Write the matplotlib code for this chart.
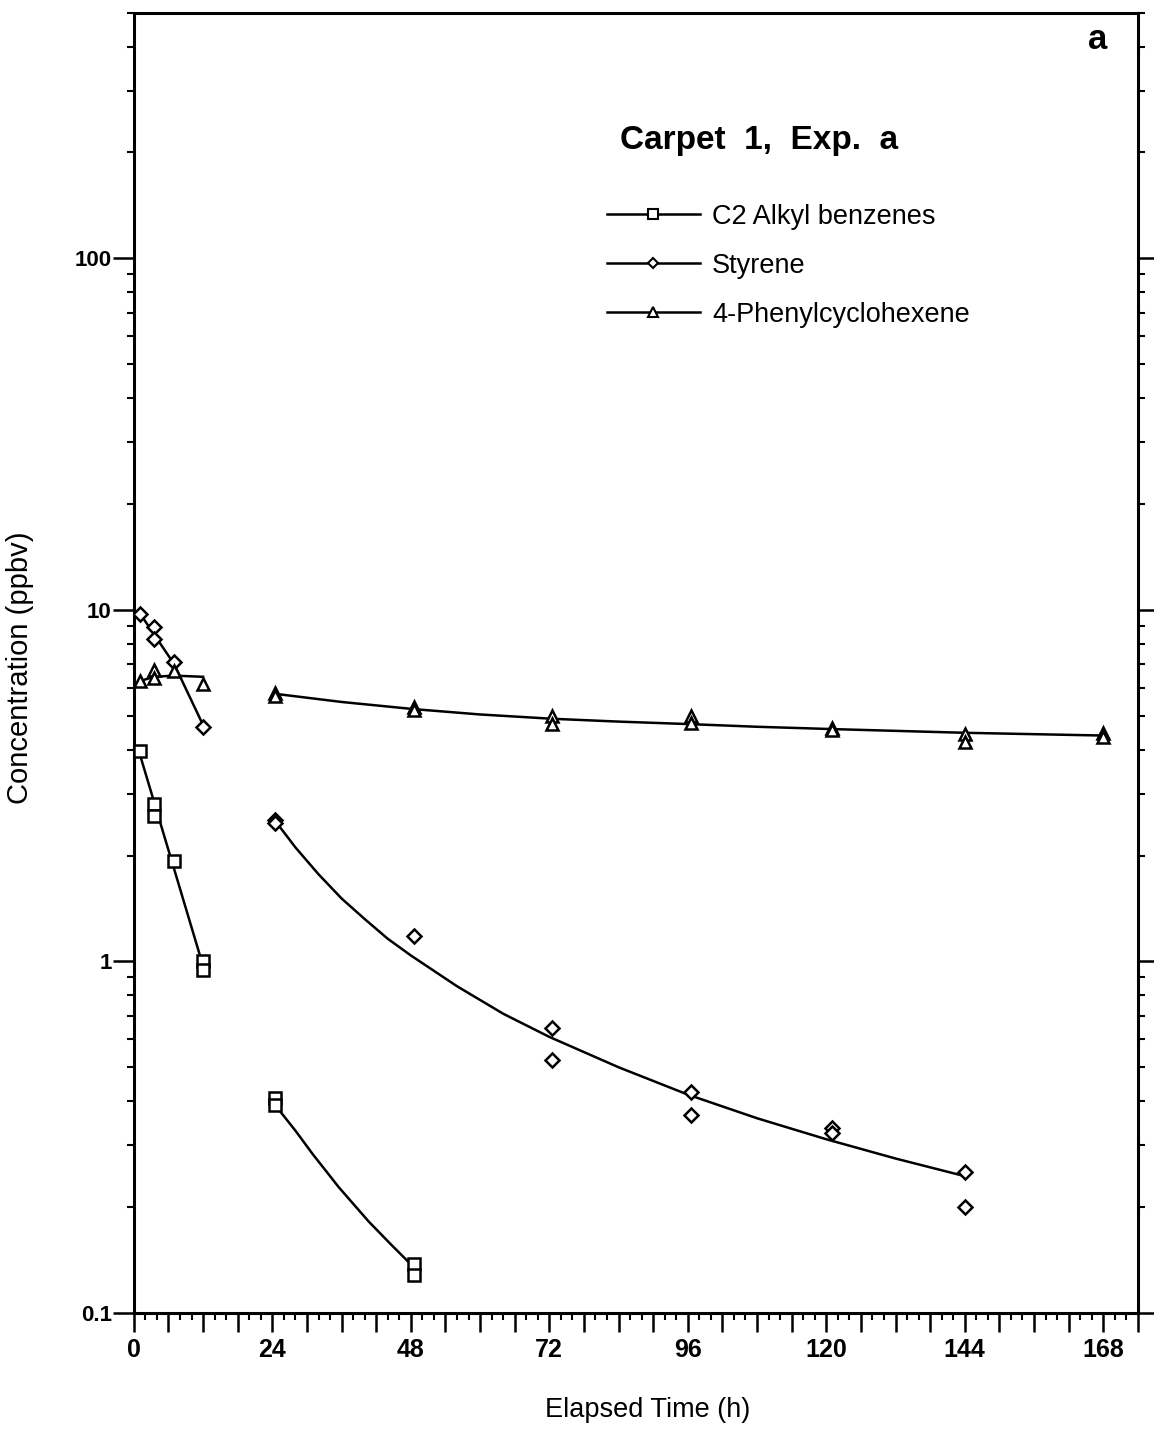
import matplotlib
matplotlib.use("Agg")
import matplotlib.pyplot as plt
from matplotlib.lines import Line2D
from matplotlib.ticker import MultipleLocator, FuncFormatter, LogLocator, NullFormatter

plt.rcParams["font.family"] = ["Liberation Sans", "DejaVu Sans"]

# measured points (h, ppbv)
c2_t = [1, 3.5, 3.5, 7, 12, 12, 24.5, 24.5, 48.5, 48.5]
c2_c = [3.97, 2.80, 2.59, 1.93, 1.00, 0.944, 0.41, 0.39, 0.138, 0.128]

sty_t = [1, 3.5, 3.5, 7, 12, 24.5, 24.5, 48.5, 72.5, 72.5, 96.5, 96.5, 121, 121, 144, 144]
sty_c = [9.76, 8.93, 8.28, 7.11, 4.63, 2.53, 2.48, 1.18, 0.648, 0.525, 0.425, 0.366,
         0.335, 0.325, 0.251, 0.20]

pch_t = [1, 3.5, 3.5, 7, 12, 24.5, 24.5, 48.5, 48.5, 72.5, 72.5, 96.5, 96.5, 121, 121,
         144, 144, 168, 168]
pch_c = [6.26, 6.75, 6.4, 6.7, 6.16, 5.8, 5.7, 5.3, 5.2, 5.0, 4.73, 5.0, 4.77, 4.6, 4.55,
         4.43, 4.22, 4.45, 4.35]

# fitted curves
c2_fit1_t = [1, 12]
c2_fit1_c = [3.9, 0.97]
c2_fit2_t = [24.5, 28, 31, 35.5, 40.7, 44.5, 48.5]
c2_fit2_c = [0.39, 0.33, 0.283, 0.228, 0.182, 0.157, 0.135]

sty_fit1_t = [1, 7, 12]
sty_fit1_c = [9.8, 7.0, 4.7]
sty_fit2_t = [24.5, 28, 32, 36, 40, 44, 48, 56, 64, 72, 84, 96, 108, 120, 132, 144]
sty_fit2_c = [2.51, 2.11, 1.77, 1.51, 1.32, 1.16, 1.04, 0.85, 0.71, 0.61, 0.50, 0.418,
              0.358, 0.312, 0.275, 0.245]

pch_fit1_t = [1, 3.5, 7, 12]
pch_fit1_c = [6.27, 6.45, 6.5, 6.45]
pch_fit2_t = [24.5, 36, 48.5, 60, 72.5, 84, 96.5, 108, 121, 144, 168]
pch_fit2_c = [5.77, 5.47, 5.22, 5.04, 4.9, 4.81, 4.73, 4.65, 4.58, 4.47, 4.39]

labels = ["C2 Alkyl benzenes", "Styrene", "4-Phenylcyclohexene"]


def main():
    fig = plt.figure(figsize=(11.54, 14.29), dpi=100)
    ax = fig.add_axes([0.116, 0.0812, 0.870, 0.910])

    lw = 1.8
    for t, c in [(c2_fit1_t, c2_fit1_c), (c2_fit2_t, c2_fit2_c),
                 (sty_fit1_t, sty_fit1_c), (sty_fit2_t, sty_fit2_c),
                 (pch_fit1_t, pch_fit1_c), (pch_fit2_t, pch_fit2_c)]:
        ax.plot(t, c, color="black", lw=lw, solid_joinstyle="round", zorder=2)

    mk = dict(linestyle="none", mfc="white", mec="black", mew=1.8, zorder=3)
    ax.plot(c2_t, c2_c, marker="s", ms=9, **mk)
    ax.plot(sty_t, sty_c, marker="D", ms=7.5, **mk)
    ax.plot(pch_t, pch_c, marker="^", ms=9, **mk)

    ax.set_yscale("log")
    ax.set_ylim(0.1, 500)
    ax.set_xlim(0, 174)

    ax.xaxis.set_major_locator(MultipleLocator(6))
    ax.xaxis.set_minor_locator(MultipleLocator(2))
    ax.xaxis.set_major_formatter(
        FuncFormatter(lambda v, p: "%d" % v if abs(v % 24) < 1e-6 else ""))
    ax.yaxis.set_major_locator(LogLocator(base=10, numticks=10))
    ax.yaxis.set_minor_locator(LogLocator(base=10, subs=range(2, 10), numticks=20))
    ax.yaxis.set_minor_formatter(NullFormatter())
    ax.yaxis.set_major_formatter(FuncFormatter(lambda v, p: "%g" % v))

    ax.tick_params(axis="x", which="major", direction="out", length=14, width=1.8,
                   labelsize=18, pad=4, top=False)
    ax.tick_params(axis="x", which="minor", direction="out", length=5, width=1.5, top=False)
    ax.tick_params(axis="y", which="major", direction="out", length=15, width=1.8,
                   labelsize=16, pad=1, right=True)
    ax.tick_params(axis="y", which="minor", direction="out", length=5, width=1.5, right=True)
    for lab in ax.get_xticklabels() + ax.get_yticklabels():
        lab.set_fontweight("bold")
    for s in ax.spines.values():
        s.set_linewidth(2.2)

    ax.set_xlabel("Elapsed Time (h)", fontsize=19.5, va="center")
    ax.xaxis.set_label_coords(0.512, -0.0746)
    ax.set_ylabel("Concentration (ppbv)", fontsize=21, va="center")
    ax.yaxis.set_label_coords(-0.1135, 0.496)

    ax.text(0.6225, 0.902, "Carpet  1,  Exp.  a", transform=ax.transAxes,
            fontsize=24, fontweight="bold", ha="center", va="center")
    ax.text(0.960, 0.979, "a", transform=ax.transAxes, fontsize=25,
            fontweight="bold", ha="center", va="center")

    handles = [
        Line2D([], [], color="black", lw=1.8, marker="s", ms=6.5, mfc="white", mec="black", mew=1.5),
        Line2D([], [], color="black", lw=1.8, marker="D", ms=5, mfc="white", mec="black", mew=1.5),
        Line2D([], [], color="black", lw=1.8, marker="^", ms=6.5, mfc="white", mec="black", mew=1.5),
    ]
    ax.legend(handles, labels, loc="upper left", bbox_to_anchor=(0.460, 0.8615),
              frameon=False, fontsize=19.5, handlelength=3.45, handletextpad=0.45,
              labelspacing=0.85, numpoints=1, borderaxespad=0)

    fig.savefig("out.png", dpi=100)


if __name__ == "__main__":
    main()
